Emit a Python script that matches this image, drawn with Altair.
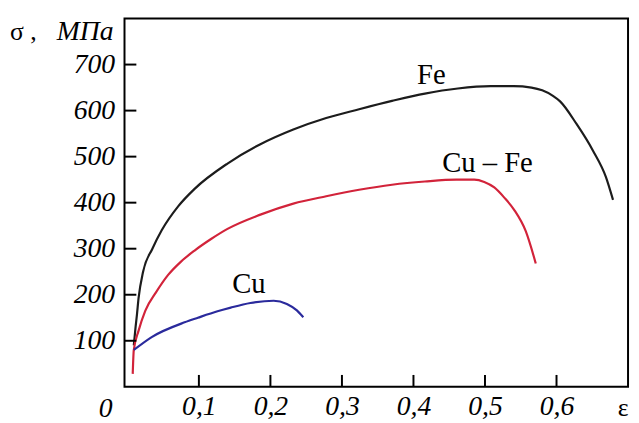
import altair as alt
import pandas as pd

# ---- data ----
fe_x = [0.009, 0.0115, 0.0134, 0.0157, 0.022, 0.035, 0.048, 0.071, 0.094, 0.140, 0.186, 0.232, 0.278, 0.324, 0.370, 0.416, 0.462, 0.508, 0.540, 0.565, 0.580, 0.595, 0.605, 0.628, 0.651, 0.669, 0.679]
fe_y = [90, 130, 157, 193, 250, 300, 340, 392, 430, 485, 527, 559, 584, 603, 621, 637, 648, 653, 653, 650, 644, 632, 620, 571, 513, 456, 406]

cufe_x = [0.0075, 0.009, 0.0157, 0.025, 0.040, 0.057, 0.075, 0.094, 0.117, 0.140, 0.186, 0.232, 0.278, 0.324, 0.370, 0.416, 0.460, 0.485, 0.499, 0.513, 0.527, 0.541, 0.557, 0.571]
cufe_y = [28, 80, 122, 165, 205, 243, 272, 296, 321, 343, 374, 398, 414, 428, 439, 446, 450, 450, 445, 433, 411, 384, 338, 268]

cu_x = [0.009, 0.034, 0.080, 0.0986, 0.126, 0.1446, 0.172, 0.2045, 0.223, 0.237, 0.246]
cu_y = [80, 108, 140, 150, 164, 172, 182, 187, 180, 166, 151]

x_ticks = [0.1, 0.2, 0.3, 0.4, 0.5, 0.6]
y_ticks = [100, 200, 300, 400, 500, 600, 700]

labels = ["Fe", "Cu – Fe", "Cu"]
label_x = [0.425, 0.5035, 0.170]
label_y = [676, 485, 222]

series_colors = {"Fe": "#1c1c1c", "Cu – Fe": "#d2233a", "Cu": "#2a2a9c"}

rows = []
for name, xs, ys in [("Fe", fe_x, fe_y), ("Cu – Fe", cufe_x, cufe_y), ("Cu", cu_x, cu_y)]:
    for i, (a, b) in enumerate(zip(xs, ys)):
        rows.append({"series": name, "eps": a, "sigma": b, "i": i})
df = pd.DataFrame(rows)

W, H = 510, 373
FONT = "Liberation Serif"

xscale = alt.Scale(domain=[-0.004, 0.70], nice=False, zero=False)
yscale = alt.Scale(domain=[0, 800], nice=False)

xaxis = alt.Axis(values=x_ticks, ticks=False, grid=False, domain=False,
                 labelExpr="replace(format(datum.value,'.1f'),'.',',')",
                 labelFont=FONT, labelFontStyle="italic", labelFontSize=28,
                 labelColor="black", labelPadding=6, title=None)
yaxis = alt.Axis(values=y_ticks, ticks=False, grid=False, domain=False,
                 labelFont=FONT, labelFontStyle="italic", labelFontSize=28,
                 labelColor="black", labelPadding=10, title=None)

lines = alt.Chart(df).mark_line(strokeWidth=2.2, interpolate="monotone").encode(
    x=alt.X("eps:Q", scale=xscale, axis=xaxis),
    y=alt.Y("sigma:Q", scale=yscale, axis=yaxis),
    color=alt.Color("series:N", scale=alt.Scale(domain=list(series_colors.keys()),
                                                range=list(series_colors.values())), legend=None),
    detail="series:N",
    order="i:Q",
)

xt = alt.Chart(pd.DataFrame({"v": x_ticks})).mark_rule(color="black", strokeWidth=2).encode(
    x=alt.X("v:Q", scale=xscale), y=alt.value(H), y2=alt.value(H - 12))
yt = alt.Chart(pd.DataFrame({"v": y_ticks})).mark_rule(color="black", strokeWidth=2).encode(
    y=alt.Y("v:Q", scale=yscale), x=alt.value(0), x2=alt.value(12))

lab = alt.Chart(pd.DataFrame({"t": labels, "x": label_x, "y": label_y})).mark_text(
    font=FONT, fontSize=29, color="black", baseline="middle", align="center").encode(
    x=alt.X("x:Q", scale=xscale), y=alt.Y("y:Q", scale=yscale), text="t:N")

base_text = alt.Chart(pd.DataFrame({"a": [0]}))
zero = base_text.mark_text(font=FONT, fontStyle="italic", fontSize=28, color="black",
                           align="center", baseline="middle").encode(
    x=alt.value(-19), y=alt.value(H + 23), text=alt.value("0"))
eps = base_text.mark_text(font=FONT, fontSize=26, color="black",
                          align="center", baseline="middle").encode(
    x=alt.value(W - 5), y=alt.value(H + 22), text=alt.value("ε"))
sig = base_text.mark_text(font=FONT, fontSize=26, color="black",
                          align="left", baseline="alphabetic").encode(
    x=alt.value(-116), y=alt.value(22), text=alt.value("σ ,"))
mpa = base_text.mark_text(font=FONT, fontStyle="italic", fontSize=28, color="black",
                          align="right", baseline="alphabetic").encode(
    x=alt.value(-11), y=alt.value(22), text=alt.value("МПа"))

chart = alt.layer(lines, xt, yt, lab, zero, eps, sig, mpa).properties(
    width=W, height=H,
    background="white",
    autosize=alt.AutoSizeParams(type="none"),
    padding={"left": 118, "top": 8, "right": 3, "bottom": 34},
).configure(font=FONT).configure_view(stroke="black", strokeWidth=2)

chart.save("out.html", embed_options={"renderer": "svg", "actions": False})
